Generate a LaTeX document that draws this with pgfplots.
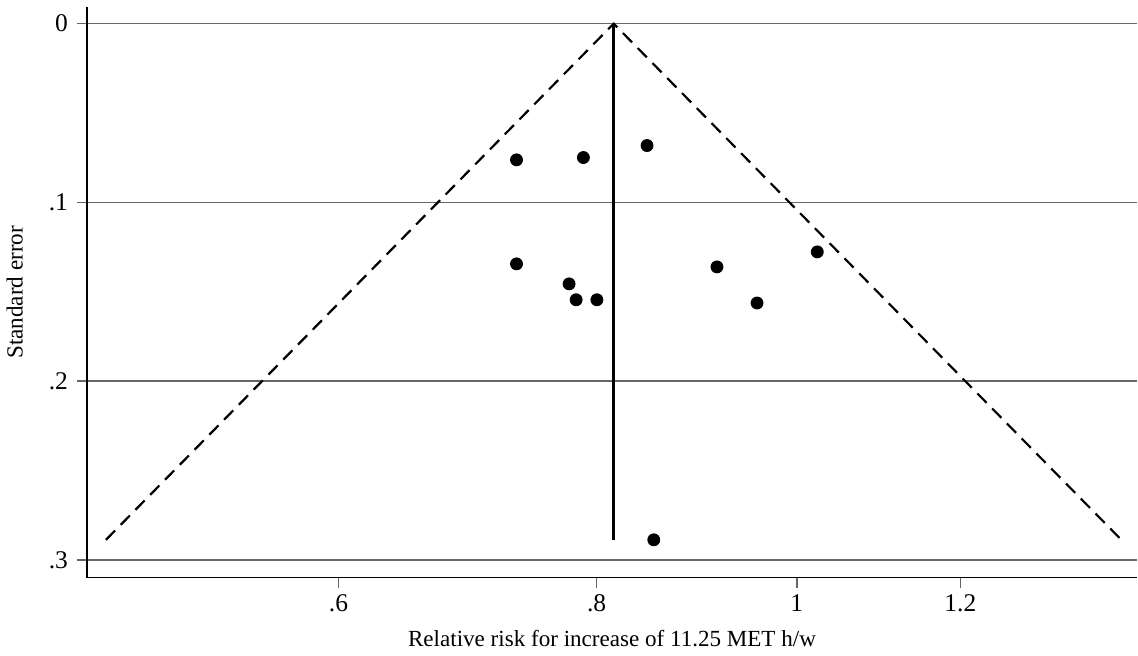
\documentclass[border=0pt]{standalone}
\usepackage{fontspec}
\setmainfont{Liberation Serif}
\usepackage{pgfplots}
\pgfplotsset{compat=1.18}
\definecolor{gridgray}{HTML}{666666}

\begin{document}
\begin{tikzpicture}
\begin{axis}[
    scale only axis,
    width=523.5pt, height=284.4pt,
    xmode=log,
    xmin=0.4533, xmax=1.4614,
    ymin=-0.0093, ymax=0.3099,
    y dir=reverse,
    axis x line*=bottom, axis y line*=left,
    axis line style={black, line width=0.9pt},
    xtick={0.6,0.8,1,1.2}, xticklabels={.6,.8,1,1.2},
    ytick={0,0.1,0.2,0.3}, yticklabels={0,.1,.2,.3},
    minor xtick={}, minor ytick={},
    log ticks with fixed point,
    tick align=outside,
    major tick length=5pt,
    tick style={gridgray, line width=0.8pt},
    ymajorgrids=true,
    grid style={gridgray, line width=0.8pt},
    ticklabel style={font=\fontsize{12.7}{14}\selectfont},
    yticklabel style={xshift=-1pt},
    label style={font=\fontsize{11.5}{13}\selectfont},
    xlabel={Relative risk for increase of 11.25 MET h/w},
    ylabel={Standard error},
    xlabel style={yshift=-2.5pt},
    ylabel style={yshift=6pt},
    clip=false,
]
% pseudo 95% confidence limits
\addplot[black, line width=1.1pt, dash pattern=on 6.5pt off 4pt] coordinates {
    (0.463,0.2888)(0.8154,0)(1.436,0.2888)
};
% pooled estimate
\addplot[black, line width=1.3pt] coordinates {(0.8154,0)(0.8154,0.2888)};
% studies
\addplot[only marks, mark=*, mark size=3pt, black] coordinates {
    (0.7318,0.0762)(0.7884,0.0749)(0.8463,0.0682)
    (0.7318,0.1344)(0.7759,0.1456)(0.7821,0.1545)
    (0.8003,0.1545)(0.9149,0.1361)(0.9567,0.1563)
    (1.0231,0.1277)(0.8527,0.2888)
};
\end{axis}
\path (current axis.north) ++(0,3.5pt);
\path (current axis.south) ++(0,-39pt);
\end{tikzpicture}
\end{document}
